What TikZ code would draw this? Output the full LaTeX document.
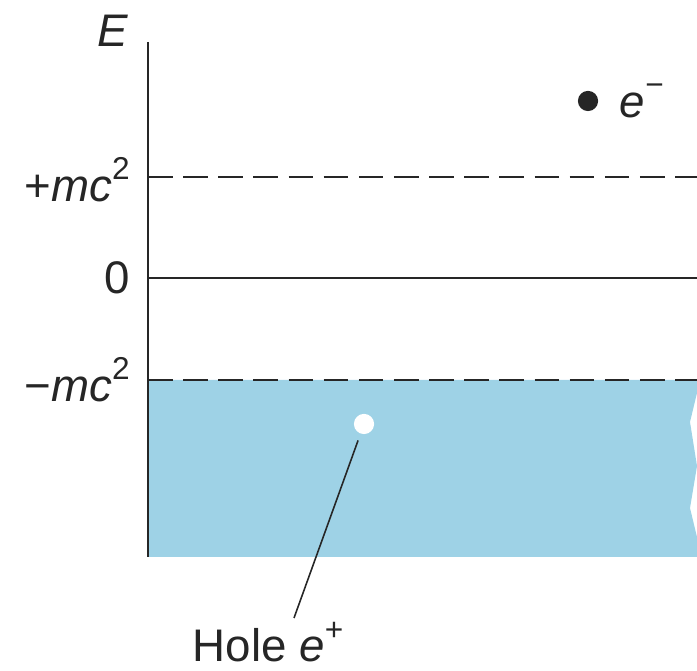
\documentclass[tikz,border=0pt]{standalone}
\usepackage{fontspec}
\setmainfont{Liberation Sans}
\usepackage{tikz}
\usetikzlibrary{positioning, calc}
\definecolor{seablue}{RGB}{158,210,230}
\newcommand{\upidx}[1]{\raisebox{0.48em}{\fontsize{18}{18}\selectfont #1}}
\tikzstyle{level} = [line width=1.1pt, black!85]
\tikzstyle{dashlevel} = [level, dash pattern=on 14pt off 6pt]
\tikzstyle{lbl} = [inner sep=0pt, font=\fontsize{26}{30}\selectfont, text=black!85]
\tikzstyle{particle} = [circle, minimum size=11.5pt, inner sep=0pt]

\begin{document}
\begin{tikzpicture}[x=0.02cm, y=-0.02cm]
        \useasboundingbox (0,0) rectangle (697,671);
        % sea of negative energy states, broken at the right
        \fill[seablue] (148,380) -- (697,380) -- (697,393) -- (690,422) -- (697,466) -- (690,508) -- (697,537) -- (697,557) -- (148,557) -- cycle;

        \draw[dashlevel] (148,177) -- (697,177);
        \draw[level] (148,278) -- (697,278);
        \draw[dashlevel] (148,380) -- (697,380);
        \draw[level] (148,42) -- (148,557);

        \node (E) [lbl, anchor=east] at (129,31) {\textit{E}};
        \node (plus) [lbl, anchor=east] at (130,180) {+\textit{mc}\upidx{2}};
        \node (zero) [lbl, anchor=east] at (130,278) {0};
        \node (minus) [lbl, anchor=east] at (130,380) {−\textit{mc}\upidx{2}};

        \node (elec) [particle, fill=black!85] at (588,101) {};
        \node (eminus) [lbl, right=12pt of elec] {\textit{e}\upidx{−}};

        \node (hole) [particle, fill=white] at (364,424) {};
        \node (holelbl) [lbl, anchor=base] at (268,662) {Hole \textit{e}\upidx{+}};
        \coordinate (holetip) at (294,618);
        \draw [level, line width=0.9pt, shorten <=4pt] (hole) -- (holetip);
    \end{tikzpicture}
\end{document}
